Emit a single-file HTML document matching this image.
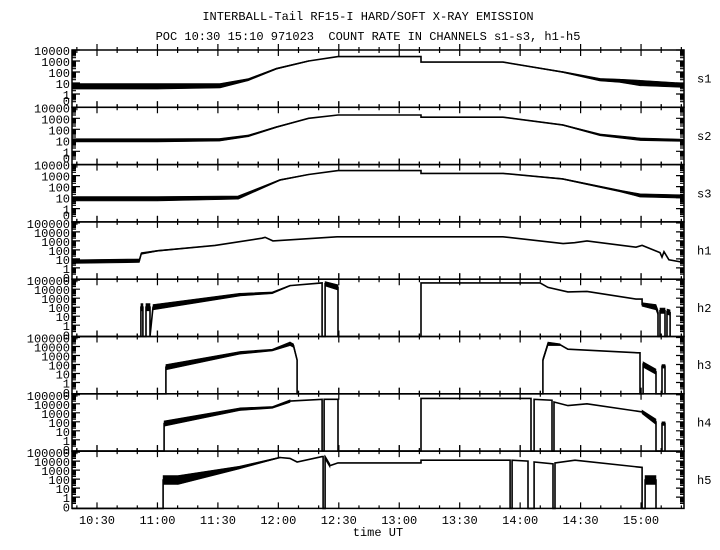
<!DOCTYPE html>
<html><head><meta charset="utf-8"><style>
html,body{margin:0;padding:0;background:#fff;}
svg{display:block;font-family:"Liberation Mono",monospace;}
</style></head><body>
<svg id="chart" width="720" height="550" viewBox="0 0 720 550" xmlns="http://www.w3.org/2000/svg">
<text x="368" y="20" font-size="12" text-anchor="middle">INTERBALL-Tail RF15-I HARD/SOFT X-RAY EMISSION</text>
<text x="368" y="40" font-size="12" text-anchor="middle" xml:space="preserve">POC 10:30 15:10 971023  COUNT RATE IN CHANNELS s1-s3, h1-h5</text>
<text x="378" y="536" font-size="12" text-anchor="middle">time UT</text>
<g id="plots"></g>
</svg>
<script>
// time in minutes after 10:00 UT; values are log10(count rate); null = zero count
const channels = ["s1","s2","s3","h1","h2","h3","h4","h5"];
const xTickLabels = ["10:30","11:00","11:30","12:00","12:30","13:00","13:30","14:00","14:30","15:00"];
const xTickMinutes = [30,60,90,120,150,180,210,240,270,300];
const sTickLabels = ["10000","1000","100","10","1","0"];
const sTickLogs = [4,3,2,1,0,null];
const hTickLabels = ["100000","10000","1000","100","10","1","0"];
const hTickLogs = [5,4,3,2,1,0,null];

const s1T = [17.6,60,91,105,119,135,149.6,190.8,190.8,231.5,261,279.6,289.6,299.5,321];
const s1L = [0.7,0.7,0.75,1.3,2.3,3.0,3.4,3.4,2.9,2.9,2.0,1.3,1.2,1.0,0.8];
const s1N = [0.25,0.25,0.2,0.1,0.05,0.03,0,0,0,0.02,0.05,0.12,0.15,0.25,0.2];

const s2T = [17.6,60,91,105,119,135,149.6,190.8,190.8,231.5,261,279.6,299.5,321];
const s2L = [1.0,1.0,1.05,1.4,2.2,3.0,3.3,3.3,3.1,3.1,2.4,1.5,1.1,1.0];
const s2N = [0.15,0.15,0.12,0.08,0.05,0.02,0,0,0,0.02,0.04,0.08,0.12,0.1];

const s3T = [17.6,60,100,120.8,135,149.6,190.8,190.8,231.5,261,289.6,299.5,321];
const s3L = [0.9,0.9,1.0,2.6,3.1,3.45,3.45,3.2,3.2,2.7,1.6,1.2,1.1];
const s3N = [0.2,0.2,0.15,0.05,0.02,0,0,0,0.02,0.04,0.08,0.15,0.15];

const h1T = [17.6,51,52,60,88.6,111.9,113.4,117.3,149.1,190.8,231.5,261.3,267,273.2,297.5,300.5,309.4,310.4,311.4,313.8,321.3];
const h1L = [0.7,0.8,1.6,1.9,2.5,3.3,3.4,3.0,3.45,3.45,3.45,2.7,2.8,3.0,2.3,2.5,1.7,1.2,1.8,0.9,0.6];
const h1N = [0.2,0.2,0.1,0.05,0.02,0,0,0,0,0,0,0,0,0,0,0,0,0,0,0,0];

const h2T = [17.6,51.8,51.8,52.8,52.8,54.3,54.3,56.3,56.3,57.8,101,117,125.8,141.7,141.7,143.2,143.2,149.6,149.6,190.8,190.8,249.9,253.8,263.7,273.2,297.5,300.5,300.5,307.4,308.4,308.4,309.4,309.4,311.9,311.9,312.9,312.9,314.4,314.4];
const h2L = [null,null,2.0,2.0,null,null,2.0,2.0,null,2.0,3.4,3.6,4.4,4.7,null,null,4.6,4.2,null,null,4.7,4.7,4.2,3.7,3.75,2.9,2.9,2.3,2.0,1.4,null,null,1.6,1.6,null,null,1.5,1.4,null];
const h2N = [0,0,0.4,0.4,0,0,0.4,0.4,0,0.3,0.15,0.1,0.05,0,0,0,0.25,0.3,0,0,0,0,0.05,0,0,0,0,0.2,0.3,0.3,0,0,0.3,0.3,0,0,0.3,0.3,0];

const h3T = [17.6,64.2,64.2,101,117,125.8,127.5,129.3,129.3,251.3,251.3,253.8,259.8,263.7,298.5,299.5,299.5,301,301,307.4,307.4,310.4,310.4,311.9,311.9];
const h3L = [null,null,1.7,3.3,3.6,4.3,4.1,2.5,null,null,2.5,4.3,4.2,3.7,3.3,3.3,null,null,2.0,1.2,null,null,1.8,1.8,null];
const h3N = [0,0,0.3,0.15,0.1,0.2,0.2,0.1,0,0,0.2,0.2,0.1,0,0,0,0,0,0.3,0.3,0,0,0.2,0.2,0];

const h4T = [17.6,63.3,63.3,101,117,125.8,141.7,141.7,142.7,142.7,149.6,149.6,190.8,190.8,245.4,245.4,246.9,246.9,255.8,255.8,256.8,256.8,263.7,273.2,300.5,300.5,307.4,307.4,309.4,309.4,310.4,310.4,311.9,311.9];
const h4L = [null,null,1.8,3.4,3.6,4.3,4.5,null,null,4.5,4.5,null,null,4.6,4.6,null,null,4.5,4.4,null,null,4.2,3.8,4.0,3.1,3.1,2.0,null,null,null,null,1.8,1.8,null];
const h4N = [0,0,0.3,0.15,0.1,0.15,0,0,0,0,0,0,0,0,0,0,0,0,0.1,0,0,0.1,0,0,0,0.2,0.3,0,0,0,0,0.2,0.2,0];

const h5T = [17.6,62.8,62.8,70.2,101,120.8,125.8,129.3,141.7,142.2,142.2,143.2,143.2,145.6,149.6,190.8,190.8,235,235,236,236,243.9,243.9,246.9,246.9,256.3,256.3,257.3,257.3,267.2,300.5,300.5,302,302,307.4,307.4];
const h5L = [null,null,1.9,1.9,3.3,4.4,4.3,3.9,4.5,4.5,null,null,4.4,3.5,3.8,3.8,4.1,4.1,null,null,4.1,4.0,null,null,3.9,3.7,null,null,3.8,4.1,3.3,null,null,1.9,1.9,null];
const h5N = [0,0,0.5,0.5,0.15,0.05,0,0,0,0,0,0,0.2,0.2,0,0,0,0,0,0,0,0,0,0,0,0,0,0,0,0,0,0,0,0.5,0.5,0];

const seriesT = [s1T,s2T,s3T,h1T,h2T,h3T,h4T,h5T];
const seriesL = [s1L,s2L,s3L,h1L,h2L,h3L,h4L,h5L];
const seriesN = [s1N,s2N,s3N,h1N,h2N,h3N,h4N,h5N];

const NS = "http://www.w3.org/2000/svg";
const X0 = 72, X1 = 684, TOP = 50, PH = 57.3;
function xScale(m){ return 97 + (m - 30) * 2.015; }
function yScale(i, lg){
  const top = TOP + i * PH;
  const isH = i >= 3;
  if (lg === null) return isH ? top + PH : top + 50;
  return isH ? top + 46 - lg * 9 : top + 44 - lg * 11;
}
const g = document.getElementById("plots");
function mk(tag, attrs){ const e = document.createElementNS(NS, tag); for (const k in attrs) e.setAttribute(k, attrs[k]); return e; }

for (let i = 0; i < channels.length; i++) {
  const top = TOP + i * PH, bot = top + PH;
  const panel = mk("g", {});
  
  
  g.appendChild(panel);
  const frame = mk("rect", {x: X0, y: top, width: X1 - X0, height: PH, fill: "none", stroke: "#000", "stroke-width": 1.5});
  
  
  panel.appendChild(frame);
  // x ticks every 10 minutes
  let tk = "";
  for (let m = 20; m <= 320; m += 10) {
    const x = xScale(m); if (x < X0 || x > X1) continue;
    const L = (m % 30 === 0) ? 6 : 3;
    tk += `M${x},${top - L}V${top + L}M${x},${bot - L}V${bot}`;
  }
  // y log ticks on left and right
  const isH = i >= 3, maxDec = isH ? 5 : 4;
  for (let d = -0.5; d <= maxDec; d++) {}
  for (let d = 0; d <= maxDec; d++) {
    for (let k = 1; k <= 9; k++) {
      const lg = d + Math.log10(k) - (d === 0 ? 0 : 0);
      const y = yScale(i, lg - (k === 1 ? 0 : 0));
      if (y < top || y > bot) continue;
      const L = k === 1 ? 8 : 4;
      tk += `M${X0},${y}H${X0 + L}M${X1},${y}H${X1 - L}`;
    }
  }
  for (let k = 2; k <= 9; k++) { const y = yScale(i, Math.log10(k) - 1); if (y < bot) tk += `M${X0},${y}H${X0 + 4}M${X1},${y}H${X1 - 4}`; }
  const ticks = mk("path", {d: tk, stroke: "#000", "stroke-width": 1.2, fill: "none"});
  
  
  panel.appendChild(ticks);
  // y labels
  const labs = isH ? hTickLabels : sTickLabels, logs = isH ? hTickLogs : sTickLogs;
  for (let j = 0; j < labs.length; j++) {
    const t = mk("text", {x: X0 - 2, y: Math.min(yScale(i, logs[j]) + 5, bot + 3), "font-size": 12, "text-anchor": "end"});
    t.textContent = labs[j];
    
    
    panel.appendChild(t);
  }
  const cl = mk("text", {x: 697, y: top + PH / 2 + 4, "font-size": 12});
  cl.textContent = channels[i];
  
  
  panel.appendChild(cl);
  // series
  const T = seriesT[i], Lg = seriesL[i], N = seriesN[i];
  let d = "", band = "";
  for (let p = 0; p < T.length; p++) {
    const x = xScale(T[p]), y = yScale(i, Lg[p]);
    d += (p ? "L" : "M") + x.toFixed(1) + "," + y.toFixed(1);
    if (p > 0 && N[p - 1] > 0 && N[p] > 0 && Lg[p - 1] !== null && Lg[p] !== null) {
      const xa = xScale(T[p - 1]);
      band += `M${xa},${yScale(i, Lg[p - 1] + N[p - 1])}L${x},${yScale(i, Lg[p] + N[p])}L${x},${yScale(i, Lg[p] - N[p])}L${xa},${yScale(i, Lg[p - 1] - N[p - 1])}Z`;
    }
  }
  const line = mk("path", {d: d, stroke: "#000", "stroke-width": 1.6, fill: "none"});
  
  
  panel.appendChild(line);
  if (band) {
    const b = mk("path", {d: band, fill: "#000", stroke: "#000", "stroke-width": 0.6});
    
    
    panel.appendChild(b);
  }
}
// x tick labels
for (let j = 0; j < xTickLabels.length; j++) {
  const t = mk("text", {x: xScale(xTickMinutes[j]), y: 524, "font-size": 12, "text-anchor": "middle"});
  t.textContent = xTickLabels[j];
  
  
  g.appendChild(t);
}
</script>
</body></html>
